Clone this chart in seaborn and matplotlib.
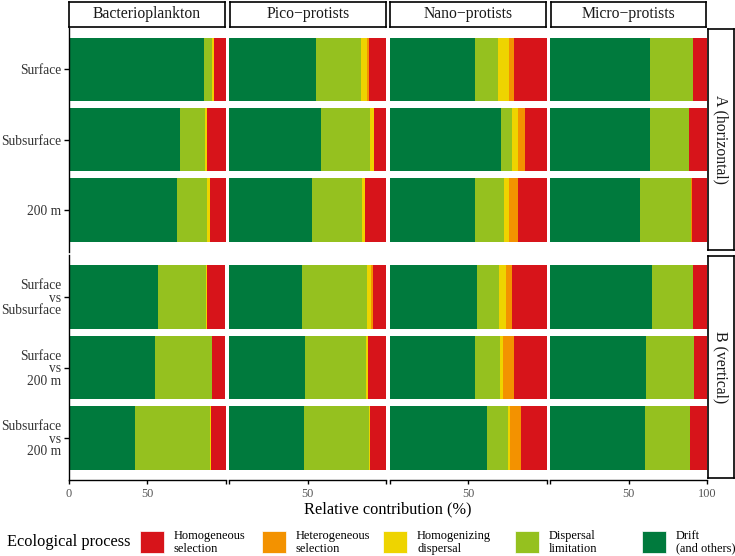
import numpy as np
import pandas as pd
import seaborn as sns
import matplotlib.pyplot as plt
from matplotlib.patches import Rectangle

sns.set_theme(style="white")
plt.rcParams['font.family'] = ['Liberation Serif', 'DejaVu Serif']

# Data, order per taxon:
# Surface, Subsurface, 200 m, S vs Sub, S vs 200, Sub vs 200
taxa = ["Bacterioplankton", "Pico\u2212protists", "Nano\u2212protists", "Micro\u2212protists"]
horizontal = ["Surface", "Subsurface", "200 m"]
vertical = ["Surface\nvs\nSubsurface", "Surface\nvs\n200 m", "Subsurface\nvs\n200 m"]
directions = ["A (horizontal)", "B (vertical)"]

drift = [86.2, 70.8, 69.4, 56.8, 55.3, 42.6,
         55.3, 58.5, 52.8, 46.4, 48.3, 47.4,
         54.2, 71.1, 54.5, 56.0, 54.2, 62.4,
         63.8, 63.8, 57.2, 65.1, 61.3, 60.5]
dispersal_limitation = [5.1, 16.2, 18.5, 30.9, 35.8, 47.6,
                        28.7, 31.3, 31.9, 41.5, 38.5, 41.3,
                        15.2, 7.2, 18.7, 14.0, 16.0, 12.9,
                        27.1, 24.5, 32.8, 25.8, 30.4, 28.4]
homogenizing_dispersal = [1.5, 1.1, 2.5, 0.3, 0.6, 0.4,
                          3.7, 2.2, 1.7, 2.6, 1.3, 1.1,
                          6.8, 3.8, 2.6, 4.3, 2.4, 1.7,
                          0.0, 0.0, 0.0, 0.0, 0.0, 0.0]
heterogeneous_selection = [0.0, 0.0, 0.0, 0.3, 0.0, 0.0,
                           1.3, 0.0, 0.0, 0.8, 0.0, 0.0,
                           3.4, 4.5, 5.9, 4.0, 6.8, 6.8,
                           0.4, 0.0, 0.3, 0.4, 0.0, 0.4]
homogeneous_selection = [7.2, 11.9, 9.6, 11.7, 8.3, 9.4,
                         11.0, 8.0, 13.6, 8.7, 11.9, 10.2,
                         20.4, 13.4, 18.3, 21.7, 20.6, 16.2,
                         8.7, 11.7, 9.7, 8.7, 8.3, 10.7]

stack_cols = ["Drift", "Dispersal limitation", "Homogenizing dispersal",
              "Heterogeneous selection", "Homogeneous selection"]
colors = {"Homogeneous selection": "#d7141a",
          "Heterogeneous selection": "#f39200",
          "Homogenizing dispersal": "#eed400",
          "Dispersal limitation": "#95c11f",
          "Drift": "#007a3d"}
legend_labels = {"Homogeneous selection": "Homogeneous\nselection",
                 "Heterogeneous selection": "Heterogeneous\nselection",
                 "Homogenizing dispersal": "Homogenizing\ndispersal",
                 "Dispersal limitation": "Dispersal\nlimitation",
                 "Drift": "Drift\n(and others)"}

df = pd.DataFrame({
    "taxon": np.repeat(taxa, 6),
    "comparison": (horizontal + vertical) * 4,
    "direction": ([directions[0]] * 3 + [directions[1]] * 3) * 4,
    "Drift": drift,
    "Dispersal limitation": dispersal_limitation,
    "Homogenizing dispersal": homogenizing_dispersal,
    "Heterogeneous selection": heterogeneous_selection,
    "Homogeneous selection": homogeneous_selection,
})
# cumulative sums so the bars can be overdrawn to look stacked
cum = df.copy()
cum[stack_cols] = df[stack_cols].cumsum(axis=1)

W, H = 735, 556
fig = plt.figure(figsize=(W / 100, H / 100), dpi=100)


def box(x0, y0, x1, y1):
    return [x0 / W, 1 - y1 / H, (x1 - x0) / W, (y1 - y0) / H]


col_left = [68.5, 229.3, 389.5, 550.0]
panel_w = 157.0
row_top = [28.0, 255.5]
row_bot = [251.5, 479.5]
pad = 0.09
xlabels = [["0", "50", ""], ["", "50", ""], ["", "50", ""], ["", "50", "100"]]

for r, (direction, comps) in enumerate(zip(directions, [horizontal, vertical])):
    for c, taxon in enumerate(taxa):
        ax = fig.add_axes(box(col_left[c], row_top[r], col_left[c] + panel_w, row_bot[r]))
        sub = cum[(cum.taxon == taxon) & (cum.direction == direction)]
        for proc in reversed(stack_cols):
            sns.barplot(data=sub, x=proc, y="comparison", order=comps, orient="h",
                        color=colors[proc], saturation=1, width=0.9, linewidth=0,
                        errorbar=None, ax=ax)
        ax.set_xlim(0, 100)
        ax.set_ylim(2.5 + pad, -0.5 - pad)
        ax.set_xlabel("")
        ax.set_ylabel("")
        for s in ["top", "right"]:
            ax.spines[s].set_visible(False)
        ax.spines["left"].set_color("black")
        ax.spines["bottom"].set_color("black")
        ax.spines["left"].set_linewidth(1.0)
        ax.spines["bottom"].set_linewidth(1.0)

        ax.set_xticks([0, 50, 100])
        if r == 1:
            ax.set_xticklabels(xlabels[c])
            ax.tick_params(axis="x", bottom=True, direction="out", length=3, width=1,
                           color="black", pad=3, labelsize=8.8, labelcolor="#555555")
        else:
            ax.spines["bottom"].set_visible(False)
            ax.tick_params(axis="x", bottom=False, labelbottom=False)

        if c == 0:
            ax.tick_params(axis="y", left=True, direction="out", length=3.3, width=1,
                           color="black", pad=1.8, labelsize=9.75, labelcolor="#333333")
            for lab in ax.get_yticklabels():
                lab.set_linespacing(0.95)
                lab.set_horizontalalignment("right")
        else:
            ax.spines["left"].set_visible(False)
            ax.tick_params(axis="y", left=False, labelleft=False)

# facet strips
def strip(rect, text, rotation=0):
    sax = fig.add_axes(rect)
    sax.set_facecolor("white")
    sax.set_xticks([])
    sax.set_yticks([])
    for s in sax.spines.values():
        s.set_color("black")
        s.set_linewidth(1.2)
        s.set_visible(True)
    sax.text(0.5, 0.5, text, transform=sax.transAxes, ha="center", va="center",
             rotation=rotation, fontsize=11.3, color="#1a1a1a")


for c, taxon in enumerate(taxa):
    strip(box(col_left[c] + 0.8, 1.5, col_left[c] + panel_w - 0.8, 26.8), taxon)
for r, direction in enumerate(directions):
    strip(box(708.2, row_top[r] + 0.5, 733.5, row_bot[r] - 1.5), direction, rotation=270)

fig.text(387.7 / W, 1 - 509 / H, "Relative contribution (%)", ha="center", va="center",
         fontsize=11.8, color="black")

# legend drawn along the bottom
fig.text(7 / W, 1 - 542 / H, "Ecological process", ha="left", va="center",
         fontsize=11.8, color="black")
key_x = [140, 262, 383, 515, 642]
legend_order = ["Homogeneous selection", "Heterogeneous selection", "Homogenizing dispersal",
                "Dispersal limitation", "Drift"]
for kx, proc in zip(key_x, legend_order):
    fig.add_artist(Rectangle((kx / W, 1 - 553.3 / H), 24 / W, 22.6 / H,
                             transform=fig.transFigure, facecolor=colors[proc],
                             edgecolor="white", linewidth=0.5))
    fig.text((kx + 34) / W, 1 - 542.5 / H, legend_labels[proc], ha="left", va="center",
             fontsize=8.9, linespacing=1.05, color="black")

fig.savefig("out.png", dpi=100)
